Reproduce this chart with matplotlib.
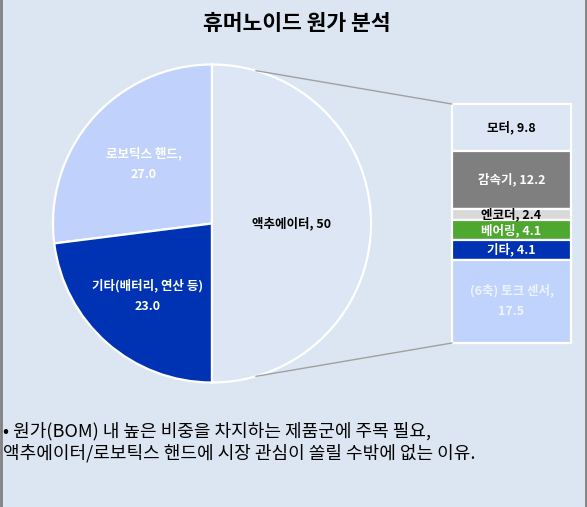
import matplotlib
matplotlib.use("Agg")
import matplotlib.pyplot as plt
import numpy as np
from matplotlib.patches import ConnectionPatch
from matplotlib.lines import Line2D

plt.rcParams['font.family'] = ['Noto Sans CJK KR', 'DejaVu Sans']

# pie data (counter-clockwise from the top)
pie_labels = ["로보틱스 핸드,\n27.0", "기타(배터리, 연산 등)\n23.0", "액추에이터, 50"]
pie_values = [27.0, 23.0, 50.0]
pie_colors = ["#C0D1FB", "#0033B3", "#DCE6F4"]
pie_text_colors = ["white", "white", "black"]
pie_label_dist = [0.57, 0.61, 0.50]

# actuator breakdown (top to bottom)
bar_labels = ["모터, 9.8", "감속기, 12.2", "엔코더, 2.4", "베어링, 4.1", "기타, 4.1",
              "(6축) 토크 센서,\n17.5"]
bar_values = [9.8, 12.2, 2.4, 4.1, 4.1, 17.5]
bar_colors = ["#DCE6F4", "#7F7F7F", "#D9D9D9", "#4EA72E", "#0033B3", "#C0D3FD"]
bar_text_colors = ["black", "white", "black", "white", "white", "#EEF3FF"]

title = "휴머노이드 원가 분석"
note = ("• 원가(BOM) 내 높은 비중을 차지하는 제품군에 주목 필요,\n"
        "액추에이터/로보틱스 핸드에 시장 관심이 쏠릴 수밖에 없는 이유.")

BG = "#DCE6F2"
W, H = 587, 507
fig = plt.figure(figsize=(W / 100, H / 100), dpi=100, facecolor=BG)

# pie axes: centre (212, 223.5) px, radius 159 px
cx, cy, r = 212, 223.5, 159
ax_pie = fig.add_axes([(cx - r) / W, (H - cy - r) / H, 2 * r / W, 2 * r / H])
ax_pie.set_facecolor("none")
wedges, _ = ax_pie.pie(pie_values, colors=pie_colors, startangle=90, counterclock=True,
                       radius=1.0, wedgeprops=dict(edgecolor="white", linewidth=1.6))
ax_pie.set_xlim(-1.0, 1.0)
ax_pie.set_ylim(-1.0, 1.0)
ax_pie.set_aspect("equal")
ax_pie.axis("off")
for w in wedges:
    w.set_clip_on(False)

for w, lab, col, d in zip(wedges, pie_labels, pie_text_colors, pie_label_dist):
    ang = np.deg2rad((w.theta1 + w.theta2) / 2)
    ax_pie.text(d * np.cos(ang), d * np.sin(ang), lab, ha="center", va="center",
                fontsize=9, fontweight="bold", color=col, linespacing=1.75)

# stacked bar axes: x 452..571, y 104..343 px
bx0, bx1, by0, by1 = 452, 571, 104, 343
ax_bar = fig.add_axes([bx0 / W, (H - by1) / H, (bx1 - bx0) / W, (by1 - by0) / H])
ax_bar.set_facecolor("none")
total = sum(bar_values)
bottom = total
for lab, val, col, tcol in zip(bar_labels, bar_values, bar_colors, bar_text_colors):
    bottom -= val
    ax_bar.bar(0, val, bottom=bottom, width=1.0, color=col, edgecolor="white",
               linewidth=1.6, clip_on=False)
    ax_bar.text(0, bottom + val / 2, lab, ha="center", va="center", fontsize=9,
                fontweight="bold", color=tcol, linespacing=1.75)
ax_bar.set_xlim(-0.5, 0.5)
ax_bar.set_ylim(0, total)
ax_bar.axis("off")

# connector lines from pie edge to bar corners
for ang_deg, yb in ((74, total), (-74, 0)):
    a = np.deg2rad(ang_deg)
    con = ConnectionPatch(xyA=(np.cos(a), np.sin(a)), coordsA=ax_pie.transData,
                          xyB=(-0.5, yb), coordsB=ax_bar.transData,
                          color="#A0A0A0", linewidth=1.0)
    fig.add_artist(con)

fig.text(297 / W, 1 - 24 / H, title, ha="center", va="center", fontsize=15.5,
         fontweight="bold", color="black")
fig.text(3 / W, 1 - 442 / H, note, ha="left", va="center", fontsize=13,
         color="black", linespacing=1.25)

# frame edges on left and right
for xf in (1 / W, 585.5 / W):
    fig.add_artist(Line2D([xf, xf], [0, 1], color="#808080", linewidth=2))

fig.savefig("out.png", dpi=100, facecolor=BG)
